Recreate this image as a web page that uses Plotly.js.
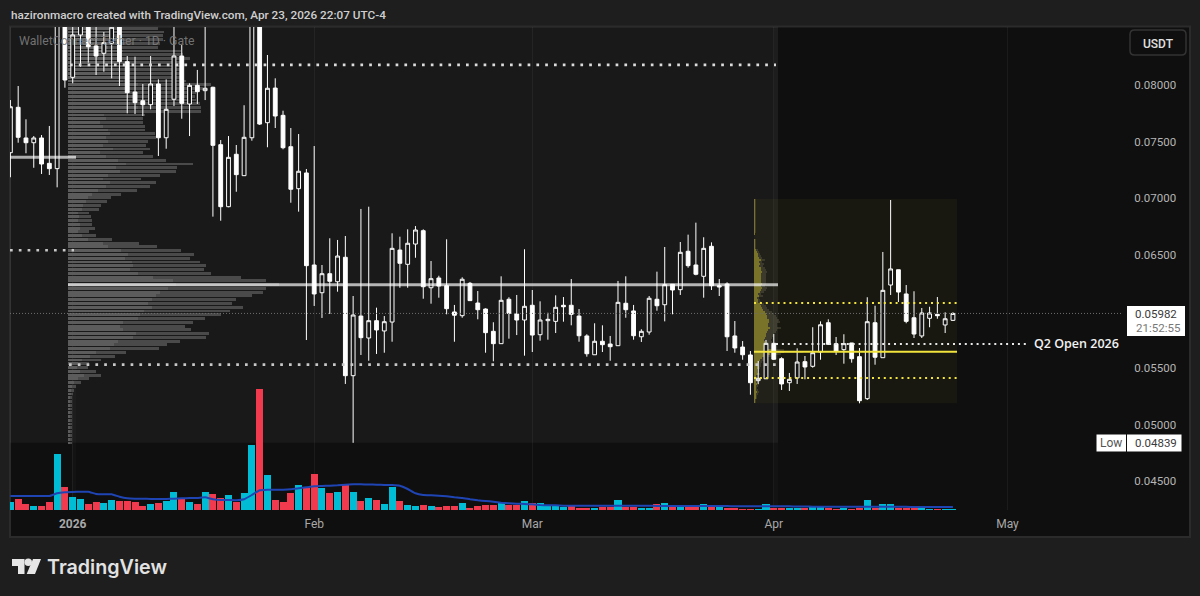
<!DOCTYPE html>
<html>
<head>
<meta charset="utf-8">
<script src="https://cdn.plot.ly/plotly-3.0.1.min.js"></script>
<style>html,body{margin:0;padding:0;background:#1e1e1e;overflow:hidden}#chart{width:1200px;height:596px}</style>
</head>
<body>
<div id="chart"></div>
<script>
// Prices are in units of 0.00001 USDT. First candle: 24 Dec 2025, last: 24 Apr 2026.
const firstDay = '2025-12-24';
const opens = [
7402,7803,7532,7490,7532,7308,7261,8700,8068,8442,
8560,8345,8280,8368,8560,8206,7938,7861,7826,8009,
7534,7874,8256,7832,7997,7950,7980,7473,6925,7388,
7199,7534,8700,7667,7973,7732,7455,7084,7223,6410,
6165,6333,6262,6478,5432,5959,5765,5918,5827,5906,
6542,6416,6595,6713,6209,6295,6227,5995,5962,6248,
6074,6021,5824,5715,6107,5977,5924,6054,5794,5918,
5912,6054,6054,5959,5783,5617,5736,5712,5697,6072,
6004,5776,5818,6107,6059,6239,6192,6531,6410,6310,
6575,6227,6242,5783,5685,5615,5388,5405,5718,5582,
5370,5412,5556,5515,5641,5900,5715,5662,5721,5600,
5229,5900,5591,6233,6368,6154,5944,5783,5939,5974,
5880,5921];
const highs = [
7867,7991,7697,7549,7558,7638,8800,8750,8600,8620,
8650,8540,8468,8580,8620,8256,8250,8009,8256,8050,
8050,8540,8353,8015,8133,8530,7985,7514,7549,7470,
7821,8800,8800,8265,8059,7773,7620,7567,7258,7461,
6410,6646,6631,6666,6136,6905,6925,6033,5959,6690,
6660,6725,6754,6725,6445,6315,6637,6057,6301,6260,
6180,6027,5904,6310,6125,6145,6549,6189,6089,5988,
6142,6127,6286,6021,5798,5895,5877,5783,6269,6310,
6057,5842,6136,6351,6569,6239,6613,6678,6784,6655,
6610,6286,6257,5915,5738,5650,5562,5747,5800,5595,
5456,5674,5606,5860,5912,5930,5774,5798,5721,5677,
6125,6050,6525,6984,6368,6233,6178,6030,6041,6127,
5992,5992];
const lows = [
7185,7490,7397,7269,7214,7205,7096,7976,8015,8162,
8197,8088,8117,8059,7991,7750,7744,7726,7785,7373,
7437,7814,7702,7549,7832,7867,6837,6801,6920,7057,
7199,7508,7647,7450,7620,7432,6960,6881,5747,6048,
5942,5977,6174,5359,4839,5615,5564,5624,5635,5732,
6209,6209,6474,6112,6068,6121,5974,5732,5944,6095,
5930,5635,5559,5715,5759,5791,5609,5641,5741,5750,
5809,5909,5877,5732,5600,5617,5641,5564,5697,5944,
5750,5730,5794,6006,5912,5974,6145,6386,6319,6121,
6189,6136,5650,5635,5573,5264,5359,5405,5571,5306,
5297,5359,5400,5503,5573,5703,5615,5538,5547,5188,
5217,5529,5591,6145,6083,5895,5765,5765,5860,5935,
5809,5915];
const closes = [
7808,7538,7490,7532,7302,7261,8700,8044,8442,8560,
8338,8256,8374,8510,8206,7932,7844,7826,8009,7534,
7785,8256,7838,7997,7941,7971,7467,6925,7361,7208,
7538,8700,7655,7971,7726,7446,7079,7238,6404,6154,
6333,6266,6489,5432,5968,5768,5918,5836,5909,6557,
6425,6602,6719,6218,6289,6224,6024,5966,6284,6095,
6015,5812,5715,6098,5983,5924,6045,5791,5924,5930,
6036,6041,5974,5785,5626,5736,5706,5688,6080,6015,
5785,5824,6116,6050,6236,6189,6522,6404,6328,6557,
6227,6216,5776,5677,5617,5370,5409,5718,5577,5359,
5400,5553,5509,5635,5882,5709,5647,5715,5582,5211,
5909,5595,6186,6375,6171,5912,5800,5986,5986,5962,
5935,5982];
const volumes = [
8,11,6,4,4,8,56,23,13,11,
6,8,7,10,9,9,8,4,6,7,
9,18,11,8,6,18,16,12,15,8,
17,65,121,35,10,8,17,25,22,36,
22,17,18,25,18,9,12,10,6,23,
9,5,4,5,4,3,4,4,7,2,
4,5,5,7,5,5,9,7,7,5,
4,3,4,2,2,2,3,3,10,3,
3,2,2,6,7,3,4,3,3,6,
3,3,2,2,1,1,1,6,2,2,
2,2,2,4,3,2,1,2,1,2,
10,2,6,6,2,2,2,2,1,1,
1,1];
const volumeUp = [
1,0,0,1,0,0,1,0,1,1,
0,0,1,1,0,0,0,0,1,0,
1,1,0,1,0,1,0,0,1,0,
1,1,0,1,0,0,0,1,0,0,
1,0,1,0,1,0,1,0,1,1,
0,1,1,0,1,0,0,0,1,0,
0,0,0,1,0,0,1,0,1,1,
1,1,0,0,0,1,0,0,1,0,
0,1,1,0,1,0,1,0,0,1,
0,1,0,0,0,0,1,1,0,0,
1,1,0,1,1,0,0,1,0,0,
1,0,1,1,0,0,0,1,1,0,
1,1];
const volumeMA = [
14,14,14,14,14,14,16.7,17.7,18,18.3,
18.3,16,15.7,15.7,13.3,11.7,11.3,11.3,11,11,
11,11.3,11.7,12,12,12.7,10.7,10,10,9.7,
10.7,15,19.7,20.3,20.3,20.3,20.7,21.7,22.7,23.7,
24,24.3,24.7,25.3,25.7,25.7,25.5,25.3,25,25,
24.3,21,16.7,15,14.7,14.3,13.7,12.7,12,10.7,
9.7,9,8.3,7.3,6.7,6.3,6,5.7,5,4.7,
4.7,4.3,4.3,4.3,4.3,4.3,4.3,4.3,4.3,4.3,
4.3,4.3,4.3,4,4,4,4,4,4,4,
4,3.9,3.9,3.7,3.7,3.7,3.7,3.7,3.7,3.7,
3.7,3.5,3.5,3.3,3.3,3.3,3.3,3.3,3.3,3.3,
3.3,3.3,3.3,3.3,3.2,3.2,3,3,3,3,
3,3];
// Fixed-range volume profile (24 Dec - 1 Apr)
const vpPrices = [
8501,8468,8434,8401,8368,8334,8301,8268,8235,8201,
8168,8135,8101,8068,8035,8002,7968,7935,7902,7868,
7835,7802,7768,7735,7702,7669,7635,7602,7569,7535,
7502,7469,7435,7402,7369,7336,7302,7269,7236,7202,
7169,7136,7102,7069,7036,7003,6969,6936,6903,6869,
6836,6803,6769,6736,6703,6670,6636,6603,6570,6536,
6503,6470,6436,6403,6370,6337,6303,6270,6237,6203,
6170,6137,6103,6070,6037,6004,5970,5937,5904,5870,
5837,5804,5770,5737,5704,5671,5637,5604,5571,5537,
5504,5471,5437,5404,5371,5338,5304,5271,5238,5204,
5171,5138,5104,5071,5038,5005,4971,4938,4905,4871,4838];
const vpBuy = [
42,50,46,48,44,40,55,52,60,50,
58,52,50,60,55,70,62,58,65,60,
62,70,60,36,38,32,35,40,42,38,
40,35,45,32,38,50,58,48,52,40,
35,42,38,30,24,20,18,15,14,10,
11,10,12,12,10,14,20,35,40,53,
60,57,64,65,62,70,85,105,108,100,
92,88,84,80,84,76,72,70,55,52,
55,68,65,50,46,42,28,22,14,10,
9,12,16,10,6,4,3,3,2,2,
2,2,2,2,2,2,2,2,2,2,2];
const vpSell = [
48,46,49,47,48,50,58,63,62,63,
57,61,63,55,63,73,73,70,62,68,
70,63,73,41,37,43,42,37,45,50,
40,43,37,43,47,48,67,61,56,52,
38,46,44,39,29,23,21,18,17,11,
12,14,12,15,11,14,24,36,49,60,
66,65,68,73,74,73,88,93,103,98,
103,96,84,84,91,86,81,67,70,65,
68,73,73,62,53,49,30,25,19,11,
11,16,17,11,7,4,3,2,2,2,
2,2,2,2,2,2,2,2,2,2,2];
// Anchored volume profile (Q2 2026)
const aprPrices = [
6984,6966,6949,6931,6913,6896,6878,6860,6843,6825,
6807,6790,6772,6754,6737,6719,6701,6684,6666,6648,
6631,6613,6595,6578,6560,6542,6525,6507,6489,6472,
6454,6436,6419,6401,6383,6366,6348,6330,6313,6295,
6277,6260,6242,6224,6207,6189,6171,6154,6136,6118,
6101,6083,6065,6048,6030,6012,5995,5977,5959,5942,
5924,5906,5889,5871,5853,5836,5818,5800,5783,5765,
5747,5730,5712,5694,5677,5659,5641,5624,5606,5588,
5571,5553,5535,5518,5500,5482,5465,5447,5429,5412,
5394,5376,5359,5341,5323,5306,5288,5270,5253,5235,
5217,5200];
const aprBuy = [
1,1,1,1,1,1,1,1,1,1,
1,1,1,1,1,1,1,1,0,0,
1,1,1,1,1,2,3,4,4,5,
7,5,6,5,7,7,8,7,7,7,
7,7,8,7,8,7,6,4,5,3,
4,4,6,7,8,9,11,12,13,13,
15,15,14,14,16,14,13,12,12,11,
10,11,10,12,12,18,30,16,12,8,
6,5,4,4,4,3,3,4,2,3,
2,2,3,2,2,2,3,2,2,2,
1,1];
const aprSell = [
0.5,0.5,1,1,0.5,0.5,1,1,1,1,
1,1,1,1,1,1,1,0,0,0,
1,1,1,0.5,1,2,2,2,3,3,
4,3,4,4,4,5,5,5,5,5,
5,5,4,4,5,5,4,3,4,2,
2,3,4,5,5,6,7,8,9,10,
10,11,9,9,11,9,9,8,8,7,
7,7,7,8,9,12,19,11,8,5,
4,3,3,3,2,2,2,2,2,2,
1,2,2,2,1,2,2,2,1,1,
1,1];
// Horizontal levels and axis labels
const levelTop = 0.08177, levelLeftGrey = 0.07361, levelLeftDots = 0.06540;
const levelPOC = 0.06236, levelVAL = 0.05529, lastPrice = 0.05982;
const q2High = 0.06993, q2Low = 0.05188, q2Upper = 0.06074, q2Lower = 0.05412, q2Mid = 0.05644, q2Open = 0.05712;
const rangeLow = 0.04839;
const priceTicks = [0.045,0.05,0.055,0.065,0.07,0.075,0.08];
const dateTicks = ['2026-01-01','2026-02-01','2026-03-01','2026-04-01','2026-05-01'];
const dateLabels = ['<b>2026</b>','Feb','Mar','Apr','May'];

const toPrice = a => a.map(v => v * 1e-5);
const start = Date.parse(firstDay + 'T00:00:00Z');
const dates = opens.map((_, i) => new Date(start + i * 86400000).toISOString().slice(0, 10));

const plotL = 10, plotR = 1123, plotT = 27, plotB = 510;
const px = v => (v - plotL) / (plotR - plotL);
const py = v => (plotB - v) / (plotB - plotT);
const ux = v => v - plotL;   // pixel-like profile axis

const font = '"Noto Sans", sans-serif';
const axisFont = 'Roboto, sans-serif';
const traces = [
  {type:'bar',orientation:'h',xaxis:'x',yaxis:'y',y:toPrice(vpPrices),x:vpBuy,base:ux(68),width:0.00025,marker:{color:'#5c5c5c',line:{width:0}},hoverinfo:'skip'},
  {type:'bar',orientation:'h',xaxis:'x',yaxis:'y',y:toPrice(vpPrices),x:vpSell,base:vpBuy.map(v=>v+ux(68)),width:0.00025,marker:{color:'#4a4a4a',line:{width:0}},hoverinfo:'skip'},
  {type:'bar',orientation:'h',xaxis:'x',yaxis:'y',y:toPrice(aprPrices),x:aprBuy,base:ux(754),width:0.0001,marker:{color:'rgba(242,228,61,.42)',line:{width:0}},hoverinfo:'skip'},
  {type:'bar',orientation:'h',xaxis:'x',yaxis:'y',y:toPrice(aprPrices),x:aprSell,base:aprBuy.map(v=>v+ux(754)),width:0.0001,marker:{color:'rgba(200,195,150,.16)',line:{width:0}},hoverinfo:'skip'},
  {type:'candlestick',xaxis:'x2',yaxis:'y',x:dates,open:toPrice(opens),high:toPrice(highs),low:toPrice(lows),close:toPrice(closes),
   increasing:{line:{color:'#ffffff',width:1},fillcolor:'#161616'},decreasing:{line:{color:'#ffffff',width:1},fillcolor:'#ffffff'},whiskerwidth:0,hoverinfo:'skip'},
  {type:'bar',xaxis:'x2',yaxis:'y2',x:dates,y:volumes,width:77760000,marker:{color:volumeUp.map(u=>u?'#00bcd4':'#f23a4f'),line:{width:0}},hoverinfo:'skip'},
  {type:'scatter',mode:'lines',xaxis:'x2',yaxis:'y2',x:dates,y:volumeMA,line:{color:'#1f45b5',width:2,shape:'spline',smoothing:0.3},hoverinfo:'skip'}
];

const hline = (x0,x1,y,color,width,dash) => ({type:'line',xref:'x',yref:'y',x0:ux(x0),x1:ux(x1),y0:y,y1:y,layer:'above',line:{color,width,dash:dash||'solid'}});
const whiteDots = '2.7px,6.1px', yellowDots = '2px,3.9px';
const pRect = (x0,y0,x1,y1,fill,line,lw) => ({type:'rect',xref:'paper',yref:'paper',x0:px(x0),x1:px(x1),y0:py(y0),y1:py(y1),fillcolor:fill,line:{color:line||'rgba(0,0,0,0)',width:lw||0},layer:'above'});
const poly = (pts,fill) => ({type:'path',xref:'paper',yref:'paper',path:'M'+pts.map(p=>px(p[0])+','+py(p[1])).join('L')+'Z',fillcolor:fill,line:{width:0},layer:'above'});

const shapes = [
  Object.assign(pRect(10,26.5,1190,537,'#0f0f0f','#2b2b2b',2),{layer:'below'}),
  {type:'rect',xref:'x',yref:'y',x0:0,x1:ux(778),y0:rangeLow,y1:0.0852,fillcolor:'rgba(255,255,255,.045)',line:{width:0},layer:'below'},
  {type:'rect',xref:'x',yref:'y',x0:ux(754),x1:ux(957),y0:q2Low,y1:q2High,fillcolor:'rgba(242,228,61,.045)',line:{width:0},layer:'below'},
  {type:'rect',xref:'x',yref:'y',x0:ux(72),x1:ux(76),y0:0.0424,y1:0.0852,fillcolor:'rgba(255,255,255,.02)',line:{width:0},layer:'below'},
  {type:'rect',xref:'x',yref:'y',x0:ux(774),x1:ux(778),y0:0.0424,y1:0.0852,fillcolor:'rgba(255,255,255,.02)',line:{width:0},layer:'below'},
  hline(10,1123,lastPrice,'#6f6f6f',1,'1px,2px'),
  hline(70,776,levelTop,'#dcdcdc',2.7,whiteDots),
  hline(10,76,levelLeftGrey,'rgba(255,255,255,.65)',3),
  hline(10,74,levelLeftDots,'#c8c8c8',2.7,whiteDots),
  hline(68,778,levelPOC,'rgba(255,255,255,.68)',3),
  hline(69,776,levelVAL,'#c8c8c8',2.7,whiteDots),
  hline(754,957,q2Upper,'#f2e43d',2,yellowDots),
  hline(754,957,q2Lower,'#f2e43d',2,yellowDots),
  hline(754,957,q2Mid,'#f2e43d',2),
  hline(776,1028,q2Open,'#e8e8e8',2,yellowDots),
  // USDT button
  {type:'path',xref:'paper',yref:'paper',path:(()=>{const r=.004;const a=px(1130),b=px(1186),c=py(55),d=py(30),ry=r*1113/483;return `M${a+r},${c}L${b-r},${c}Q${b},${c} ${b},${c+ry}L${b},${d-ry}Q${b},${d} ${b-r},${d}L${a+r},${d}Q${a},${d} ${a},${d-ry}L${a},${c+ry}Q${a},${c} ${a+r},${c}Z`})(),fillcolor:'rgba(0,0,0,0)',line:{color:'#333333',width:1.5},layer:'above'},
  pRect(1127,306,1185,336,'#ffffff'),
  pRect(1096.5,434.5,1126,451.5,'#ffffff'),
  pRect(1127,434.5,1181.5,451.5,'#ffffff'),
  // TradingView logo mark
  poly([[12,559],[24.5,559],[24.5,574],[18,574],[18,566],[12,566]],'#e6e6e6'),
  poly([[33,559],[41,559],[35,574],[26.7,574]],'#e6e6e6'),
  {type:'circle',xref:'paper',yref:'paper',x0:px(24.5),x1:px(32),y0:py(566),y1:py(558.5),fillcolor:'#e6e6e6',line:{width:0},layer:'above'}
];

const note = (x,y,text,size,color,anchor,fam,weight) => ({xref:'paper',yref:'paper',x:px(x),y:py(y),text,showarrow:false,xanchor:anchor||'left',yanchor:'middle',font:{family:fam||font,size,color,weight:weight||400}});
const annotations = [
  note(9,14.5,'hazironmacro created with TradingView.com, Apr 23, 2026 22:07 UTC-4',11.75,'#cfcfcf','left',axisFont,500),
  note(17,41,'WalletConnect Tether · 1D · Gate',12.25,'rgba(125,125,125,.9)','left',axisFont),
  note(1158,44,'USDT',12,'#e0e0e0','center',axisFont,500),
  note(1133,314,'0.05982',11.5,'#3a3a3a','left',axisFont),
  note(1133.5,328,'21:52:55',11.5,'#777777','left',axisFont),
  note(1111,443,'Low',12,'#555555','center',axisFont),
  note(1133,443,'0.04839',11.5,'#3a3a3a','left',axisFont),
  note(1031.5,343,'Q2 Open 2026',12.5,'#f2f2f2','left','"Open Sans", sans-serif',600),
  note(45,567,'TradingView',19.7,'#e2e2e2','left','Inter, sans-serif',600)
];

const layout = {
  width:1200,height:596,
  margin:{l:plotL,r:1200-plotR,t:plotT,b:596-plotB,pad:0},
  paper_bgcolor:'#1e1e1e',plot_bgcolor:'rgba(0,0,0,0)',
  showlegend:false,barmode:'overlay',bargap:0,
  font:{family:axisFont,color:'#b5b5b5',size:12},
  xaxis:{domain:[0,1],range:[0,plotR-plotL],visible:false,fixedrange:true},
  xaxis2:{overlaying:'x',anchor:'y',side:'bottom',type:'date',range:['2025-12-23 22:48','2026-05-15 19:55'],tickmode:'array',tickvals:dateTicks,ticktext:dateLabels,showgrid:true,gridcolor:'rgba(255,255,255,.05)',gridwidth:1,showline:false,zeroline:false,ticks:'outside',ticklen:3,tickcolor:'rgba(0,0,0,0)',tickfont:{family:axisFont,size:12,color:'#a8a8a8'},fixedrange:true,rangeslider:{visible:false}},
  yaxis:{domain:[0,1],anchor:'x',side:'right',type:'linear',range:[0.042455,0.085124],tickmode:'array',tickvals:priceTicks,tickformat:'.5f',showgrid:false,showline:false,zeroline:false,ticks:'outside',ticklen:8,tickcolor:'rgba(0,0,0,0)',tickfont:{family:axisFont,size:11.5,color:'#b5b5b5'},fixedrange:true},
  yaxis2:{overlaying:'y',anchor:'x',range:[0,483],visible:false,fixedrange:true},
  shapes,annotations
};
Plotly.newPlot('chart',traces,layout,{displayModeBar:false,staticPlot:true});
</script>
</body>
</html>
